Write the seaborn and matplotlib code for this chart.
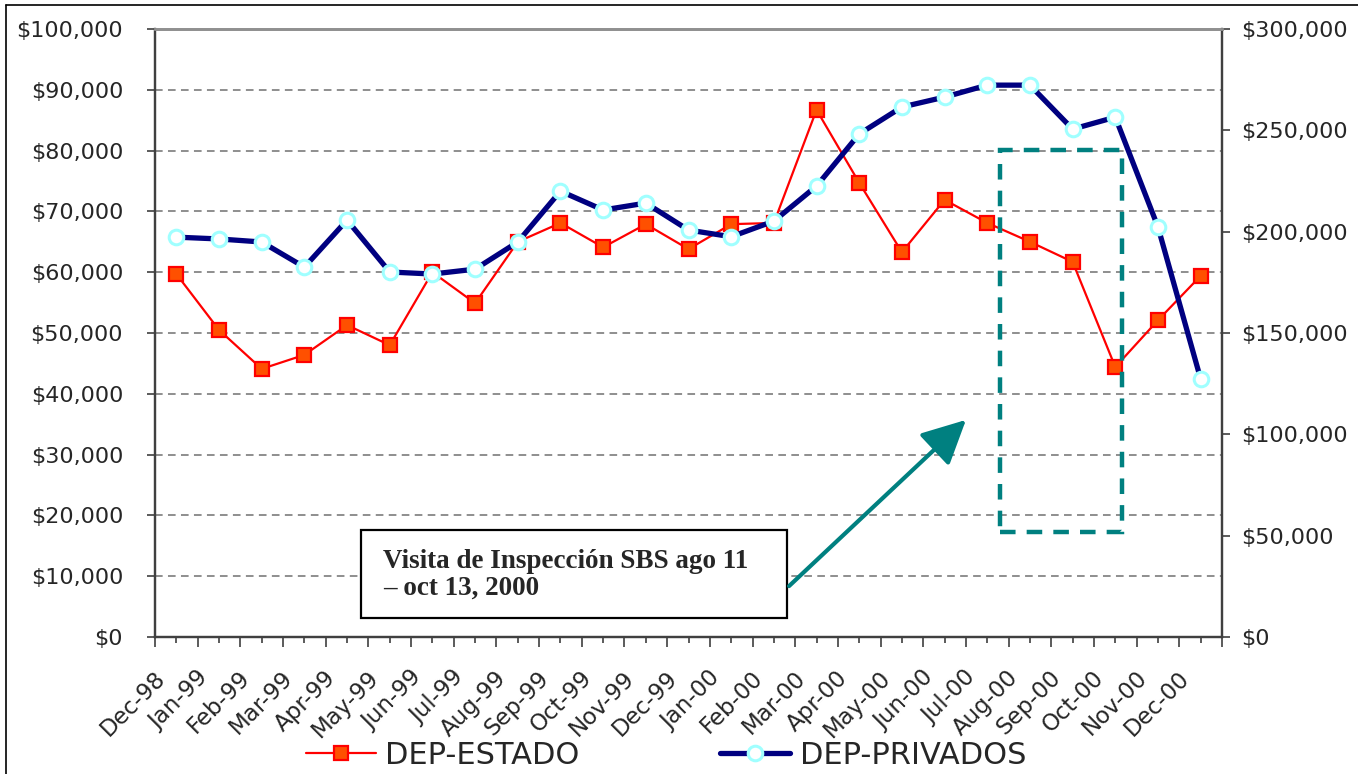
import numpy as np
import pandas as pd
import matplotlib
matplotlib.use("Agg")
import matplotlib.pyplot as plt
import seaborn as sns
from matplotlib.transforms import ScaledTranslation
from matplotlib.lines import Line2D
from matplotlib.patches import Rectangle

months = ["Dec-98", "Jan-99", "Feb-99", "Mar-99", "Apr-99", "May-99", "Jun-99",
          "Jul-99", "Aug-99", "Sep-99", "Oct-99", "Nov-99", "Dec-99", "Jan-00",
          "Feb-00", "Mar-00", "Apr-00", "May-00", "Jun-00", "Jul-00", "Aug-00",
          "Sep-00", "Oct-00", "Nov-00", "Dec-00"]
dep_estado = [59700, 50500, 44100, 46400, 51300, 48000, 60000, 54900, 65000,
              68100, 64100, 67900, 63800, 67900, 68100, 86700, 74700, 63300,
              71900, 68100, 65000, 61700, 44400, 52100, 59400]
dep_privados = [197300, 196400, 194900, 182500, 205700, 180100, 179100, 181500,
                194900, 220000, 210700, 214100, 200800, 197500, 205200, 222500,
                248200, 261500, 266400, 272300, 272300, 250600, 256500, 202300,
                127300]
left_ticks = list(range(0, 100001, 10000))
right_ticks = list(range(0, 300001, 50000))
series_names = ["DEP-ESTADO", "DEP-PRIVADOS"]
note_text = "Visita de Inspección SBS ago 11\n– oct 13, 2000"

sns.set_theme(style="white")
plt.rcParams["font.family"] = ["DejaVu Sans"]

df = pd.DataFrame({"idx": np.arange(len(months)), "mes": months,
                   "estado": dep_estado, "privados": dep_privados})

fig = plt.figure(figsize=(13.58, 7.74), dpi=100)
W, H = 1358, 774
ax1 = fig.add_axes([155 / W, 1 - 637 / H, (1222 - 155) / W, (637 - 29) / H])
ax2 = ax1.twinx()

# gridlines
ax1.set_ylim(0, 100000)
ax1.set_yticks(left_ticks)
ax1.yaxis.grid(True, color="#707070", linestyle=(0, (5, 3.5)), linewidth=1.1)
ax1.xaxis.grid(False)
ax1.set_axisbelow(True)

sns.lineplot(data=df, x="idx", y="estado", ax=ax1, color="#FF0000", linewidth=1.6,
             marker="s", markersize=10, markerfacecolor="#FF5000",
             markeredgecolor="#FF0000", markeredgewidth=1.6, legend=False,
             zorder=3)
sns.lineplot(data=df, x="idx", y="privados", ax=ax2, color="#000080", linewidth=3.8,
             marker="o", markersize=10.5, markerfacecolor="white",
             markeredgecolor="#A0FFFF", markeredgewidth=2.2, legend=False,
             zorder=3)

ax1.set_xlim(-0.5, len(months) - 0.5)
ax2.set_ylim(0, 300000)
ax2.set_yticks(right_ticks)
ax2.grid(False)

ax1.set_yticklabels([f"${v:,.0f}" for v in left_ticks])
ax2.set_yticklabels([f"${v:,.0f}" for v in right_ticks])
for a in (ax1, ax2):
    a.set_xlabel("")
    a.set_ylabel("")

ax1.set_xticks(np.arange(len(months)))
ax1.set_xticklabels(months, rotation=45, ha="right", rotation_mode="anchor",
                    fontsize=16.5)
ax1.set_xticks(np.arange(len(months) + 1) - 0.5, minor=True)
ax1.tick_params(axis="x", which="major", direction="out", length=4, width=1.2,
                color="#404040", pad=17, bottom=True)
ax1.tick_params(axis="x", which="minor", direction="out", length=7, width=1.2,
                color="#404040", bottom=True)
off = ScaledTranslation(-23 / 100, 0, fig.dpi_scale_trans)
for lab in ax1.get_xticklabels():
    lab.set_transform(lab.get_transform() + off)

ax1.tick_params(axis="y", direction="out", length=6, width=1.2, color="#404040",
                labelsize=16, pad=17, left=True)
ax2.tick_params(axis="y", direction="out", length=6, width=1.2, color="#404040",
                labelsize=16, pad=8, right=True)

for a in (ax1, ax2):
    for s in ("left", "right", "bottom"):
        a.spines[s].set_color("#404040")
        a.spines[s].set_linewidth(1.6)
    a.spines["top"].set_color("#909090")
    a.spines["top"].set_linewidth(2.0)

# dashed highlight box (Aug-00 .. Oct-00 visit)
ax1.add_patch(Rectangle((19.3, 17300), 2.86, 62800, fill=False,
                        edgecolor="#008080", linewidth=3.2,
                        linestyle=(0, (3.5, 2.5)), zorder=4))

# annotation box with arrow
fig.patches.append(Rectangle((361 / W, 1 - 618 / H), (787 - 361) / W, (618 - 530) / H,
                             transform=fig.transFigure, facecolor="white",
                             edgecolor="black", linewidth=1.6, zorder=5))
fig.text(383 / W, 1 - 575 / H, note_text, family=["Liberation Serif"],
         fontweight="bold", fontsize=19.5, va="center", ha="left",
         linespacing=1.1, zorder=6)
fig.add_artist(matplotlib.patches.FancyArrowPatch(
    (787 / W, 1 - 588 / H), (968 / W, 1 - 418 / H), transform=fig.transFigure,
    arrowstyle="-|>,head_length=1.5,head_width=0.75", mutation_scale=18,
    color="#008080", linewidth=3, zorder=6))

# legend
handles = [
    Line2D([], [], color="#FF0000", linewidth=1.6, marker="s", markersize=10,
           markerfacecolor="#FF5000", markeredgecolor="#FF0000",
           markeredgewidth=1.6),
    Line2D([], [], color="#000080", linewidth=3.8, marker="o", markersize=10.5,
           markerfacecolor="white", markeredgecolor="#A0FFFF",
           markeredgewidth=2.2),
]
fig.legend(handles, series_names, loc="center", bbox_to_anchor=(666 / W, 1 - 755 / H),
           ncol=2, frameon=False, fontsize=22, handlelength=2.3, numpoints=1,
           columnspacing=4.6, handletextpad=0.3, borderpad=0.1)

# outer chart frame
fig.add_artist(Line2D([6 / W, 1], [1 - 5 / H, 1 - 5 / H], transform=fig.transFigure,
                      color="black", linewidth=1.2))
fig.add_artist(Line2D([6 / W, 6 / W], [0, 1 - 5 / H], transform=fig.transFigure,
                      color="black", linewidth=1.2))

fig.savefig("out.png", dpi=100)
